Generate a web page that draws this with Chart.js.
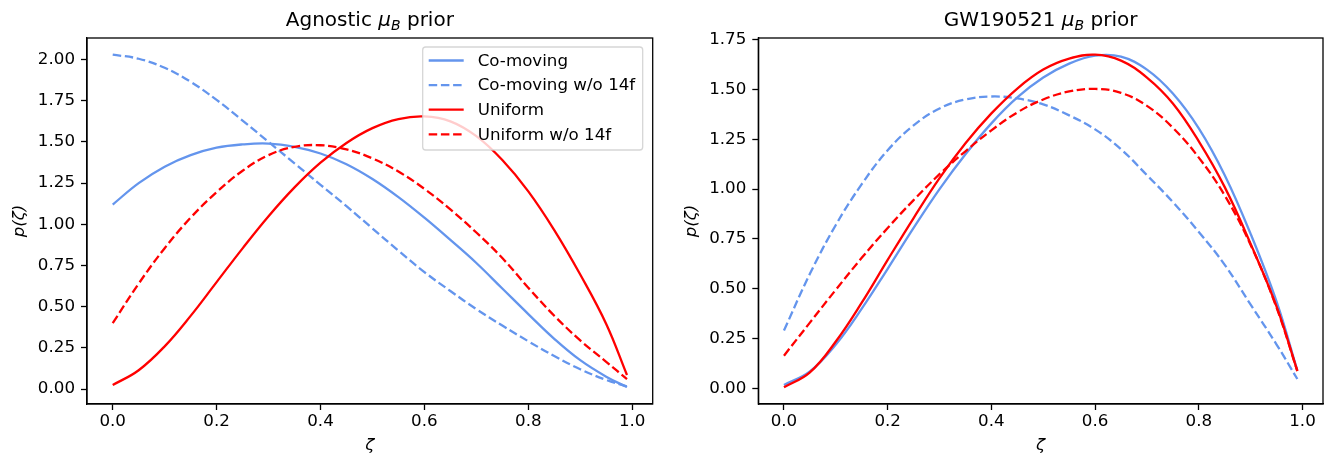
<!DOCTYPE html>
<html>
<head>
<meta charset="utf-8">
<script src="https://cdn.jsdelivr.net/npm/chart.js@4.4.1/dist/chart.umd.min.js"></script>
<style>
    html, body { margin: 0; padding: 0; background: #fff; }
    #wrap { position: relative; width: 1325px; height: 456px; }
    canvas { position: absolute; top: 0; }
</style>
</head>
<body>
<div id="wrap">
    <canvas id="agnostic_chart" width="660" height="456" style="left:0"></canvas>
    <canvas id="gw_chart" width="665" height="456" style="left:660px"></canvas>
</div>
<script>
// zeta grid the curves were read at
const zeta = [0, 0.05, 0.1, 0.15, 0.2, 0.25, 0.3, 0.35, 0.4, 0.45, 0.5,
    0.55, 0.6, 0.65, 0.7, 0.75, 0.8, 0.85, 0.9, 0.95, 0.99];

// left panel: agnostic mu_B prior
const agnComoving = [1.12, 1.25, 1.35, 1.42, 1.465, 1.485, 1.49, 1.47, 1.43, 1.365, 1.275,
    1.165, 1.04, 0.905, 0.765, 0.61, 0.455, 0.305, 0.175, 0.075, 0.012];
const agnComovingNo14f = [2.03, 2.005, 1.95, 1.865, 1.755, 1.63, 1.50, 1.37, 1.24, 1.11, 0.975,
    0.84, 0.71, 0.595, 0.485, 0.385, 0.29, 0.20, 0.12, 0.055, 0.015];
const agnUniform = [0.024, 0.114, 0.259, 0.444, 0.649, 0.854, 1.049, 1.224, 1.374, 1.494, 1.584,
    1.639, 1.655, 1.625, 1.535, 1.39, 1.20, 0.965, 0.695, 0.395, 0.085];
const agnUniformNo14f = [0.40, 0.64, 0.855, 1.04, 1.195, 1.325, 1.42, 1.47, 1.48, 1.455, 1.40,
    1.32, 1.215, 1.09, 0.95, 0.795, 0.615, 0.445, 0.295, 0.165, 0.06];

// right panel: GW190521 mu_B prior
const gwComoving = [0.017, 0.085, 0.22, 0.40, 0.60, 0.805, 1.0, 1.175, 1.33, 1.46, 1.56,
    1.63, 1.67, 1.665, 1.60, 1.48, 1.305, 1.07, 0.775, 0.435, 0.09];
const gwComovingNo14f = [0.29, 0.575, 0.82, 1.025, 1.195, 1.32, 1.405, 1.45, 1.465, 1.455, 1.425,
    1.37, 1.30, 1.20, 1.07, 0.935, 0.785, 0.62, 0.42, 0.22, 0.047];
const gwUniform = [0.005, 0.08, 0.235, 0.43, 0.645, 0.855, 1.055, 1.23, 1.38, 1.505, 1.60,
    1.655, 1.675, 1.645, 1.56, 1.43, 1.24, 1.01, 0.725, 0.41, 0.088];
const gwUniformNo14f = [0.164, 0.33, 0.495, 0.655, 0.805, 0.945, 1.075, 1.19, 1.295, 1.385, 1.45,
    1.49, 1.503, 1.483, 1.418, 1.308, 1.158, 0.968, 0.72, 0.405, 0.087];

const seriesLabels = ['Co-moving', 'Co-moving w/o 14f', 'Uniform', 'Uniform w/o 14f'];
const xTicks = [0, 0.2, 0.4, 0.6, 0.8, 1.0];
const yTicksLeft = [0, 0.25, 0.5, 0.75, 1.0, 1.25, 1.5, 1.75, 2.0];
const yTicksRight = [0, 0.25, 0.5, 0.75, 1.0, 1.25, 1.5, 1.75];

const FONT = "'DejaVu Sans', sans-serif";
const FS = 16.7;
const BLUE = 'cornflowerblue';
const RED = '#ff0000';
const LW = 2.3;
const DASH = [8.5, 3.7];

function points(ys) {
    return zeta.map((x, i) => ({x: x, y: ys[i]}))
}

function makeDatasets(a, b, c, d) {
    let styles = [
        [BLUE, []], [BLUE, DASH], [RED, []], [RED, DASH]
    ];
    return [a, b, c, d].map((ys, i) => ({
        label: seriesLabels[i],
        data: points(ys),
        borderColor: styles[i][0],
        borderDash: styles[i][1],
        borderWidth: LW,
        pointRadius: 0,
        tension: 0.4,
        fill: false,
        order: 4 - i   // later series on top, like matplotlib
    }));
}

// title with a mu_B subscript
const titlePlugin = {
    id: 'panelTitle',
    afterDraw(chart, args, opts) {
        let ctx = chart.ctx;
        let parts = [
            {t: opts.prefix, font: `20px ${FONT}`, dy: 0},
            {t: 'μ', font: `italic 20px ${FONT}`, dy: 0},
            {t: 'B', font: `italic 14px ${FONT}`, dy: 4},
            {t: ' prior', font: `20px ${FONT}`, dy: 0}
        ];
        ctx.save();
        let total = 0;
        parts.forEach(p => { ctx.font = p.font; p.w = ctx.measureText(p.t).width; total += p.w; });
        let area = chart.chartArea;
        let x = (area.left + area.right) / 2 - total / 2;
        ctx.fillStyle = '#000';
        ctx.textBaseline = 'alphabetic';
        ctx.textAlign = 'left';
        parts.forEach(p => {
            ctx.font = p.font;
            ctx.fillText(p.t, x, 26 + p.dy);
            x += p.w;
        });
        ctx.restore();
    }
};

// top and right spines
const framePlugin = {
    id: 'frame',
    afterDatasetsDraw(chart) {
        let {ctx, chartArea: a} = chart;
        ctx.save();
        ctx.strokeStyle = '#000';
        ctx.lineWidth = 1.3;
        ctx.strokeRect(a.left, a.top, a.right - a.left, a.bottom - a.top);
        ctx.restore();
    }
};

// matplotlib-like legend box in the upper right
const legendPlugin = {
    id: 'mplLegend',
    afterDatasetsDraw(chart, args, opts) {
        if (!opts.show) return;
        let ctx = chart.ctx;
        let a = chart.chartArea;
        let bx = a.right - 10 - 220, by = a.top + 9, bw = 220, bh = 103;
        ctx.save();
        ctx.beginPath();
        ctx.roundRect(bx, by, bw, bh, 3);
        ctx.fillStyle = 'rgba(255,255,255,0.8)';
        ctx.fill();
        ctx.strokeStyle = 'rgba(204,204,204,0.8)';
        ctx.lineWidth = 1.3;
        ctx.stroke();
        ctx.font = `${FS}px ${FONT}`;
        ctx.textBaseline = 'middle';
        ctx.fillStyle = '#000';
        chart.data.datasets.forEach((ds, i) => {
            let y = by + 13.5 + i * 24.6;
            ctx.beginPath();
            ctx.setLineDash(ds.borderDash);
            ctx.strokeStyle = ds.borderColor;
            ctx.lineWidth = LW;
            ctx.moveTo(bx + 6, y);
            ctx.lineTo(bx + 41, y);
            ctx.stroke();
            ctx.setLineDash([]);
            ctx.fillText(ds.label, bx + 55, y + 1);
        });
        ctx.restore();
    }
};

function makeScales(yMin, yMax, yTicks, yWidth) {
    let tickFont = {family: FONT, size: FS};
    let grid = {display: true, drawOnChartArea: false, drawTicks: true,
        tickLength: 6, tickColor: '#000', tickWidth: 1.3};
    return {
        x: {
            type: 'linear',
            min: -0.0495,
            max: 1.0395,
            afterBuildTicks: s => { s.ticks = xTicks.map(v => ({value: v})) },
            afterFit: s => { s.height = 52 },
            grid: grid,
            border: {display: true, color: '#000', width: 1.3},
            ticks: {color: '#000', font: tickFont, padding: 2, maxRotation: 0,
                callback: v => v.toFixed(1)},
            title: {display: true, text: 'ζ', color: '#000',
                font: {family: FONT, size: FS, style: 'italic'}, padding: {top: 0, bottom: 0}}
        },
        y: {
            type: 'linear',
            min: yMin,
            max: yMax,
            afterBuildTicks: s => { s.ticks = yTicks.map(v => ({value: v})) },
            afterFit: s => { s.width = yWidth },
            grid: grid,
            border: {display: true, color: '#000', width: 1.3},
            ticks: {color: '#000', font: tickFont, padding: 6,
                callback: v => v.toFixed(2)},
            title: {display: true, text: 'p(ζ)', color: '#000',
                font: {family: FONT, size: FS, style: 'italic'},
                padding: {top: yWidth - 77, bottom: 0}}
        }
    };
}

function makeChart(canvas, datasets, scales, padRight, prefix, showLegend) {
    return new Chart(canvas, {
        type: 'line',
        data: {datasets: datasets},
        options: {
            responsive: false,
            animation: false,
            devicePixelRatio: 1,
            layout: {padding: {top: 38, right: padRight, bottom: 0, left: 0}},
            scales: scales,
            plugins: {
                legend: {display: false},
                tooltip: {enabled: false},
                panelTitle: {prefix: prefix},
                mplLegend: {show: showLegend}
            }
        },
        plugins: [framePlugin, legendPlugin, titlePlugin]
    });
}

makeChart(document.querySelector('#agnostic_chart'),
    makeDatasets(agnComoving, agnComovingNo14f, agnUniform, agnUniformNo14f),
    makeScales(-0.091, 2.131, yTicksLeft, 87), 7.3, 'Agnostic ', true);

makeChart(document.querySelector('#gw_chart'),
    makeDatasets(gwComoving, gwComovingNo14f, gwUniform, gwUniformNo14f),
    makeScales(-0.0785, 1.7585, yTicksRight, 98.3), 2, 'GW190521 ', false);
</script>
</body>
</html>
